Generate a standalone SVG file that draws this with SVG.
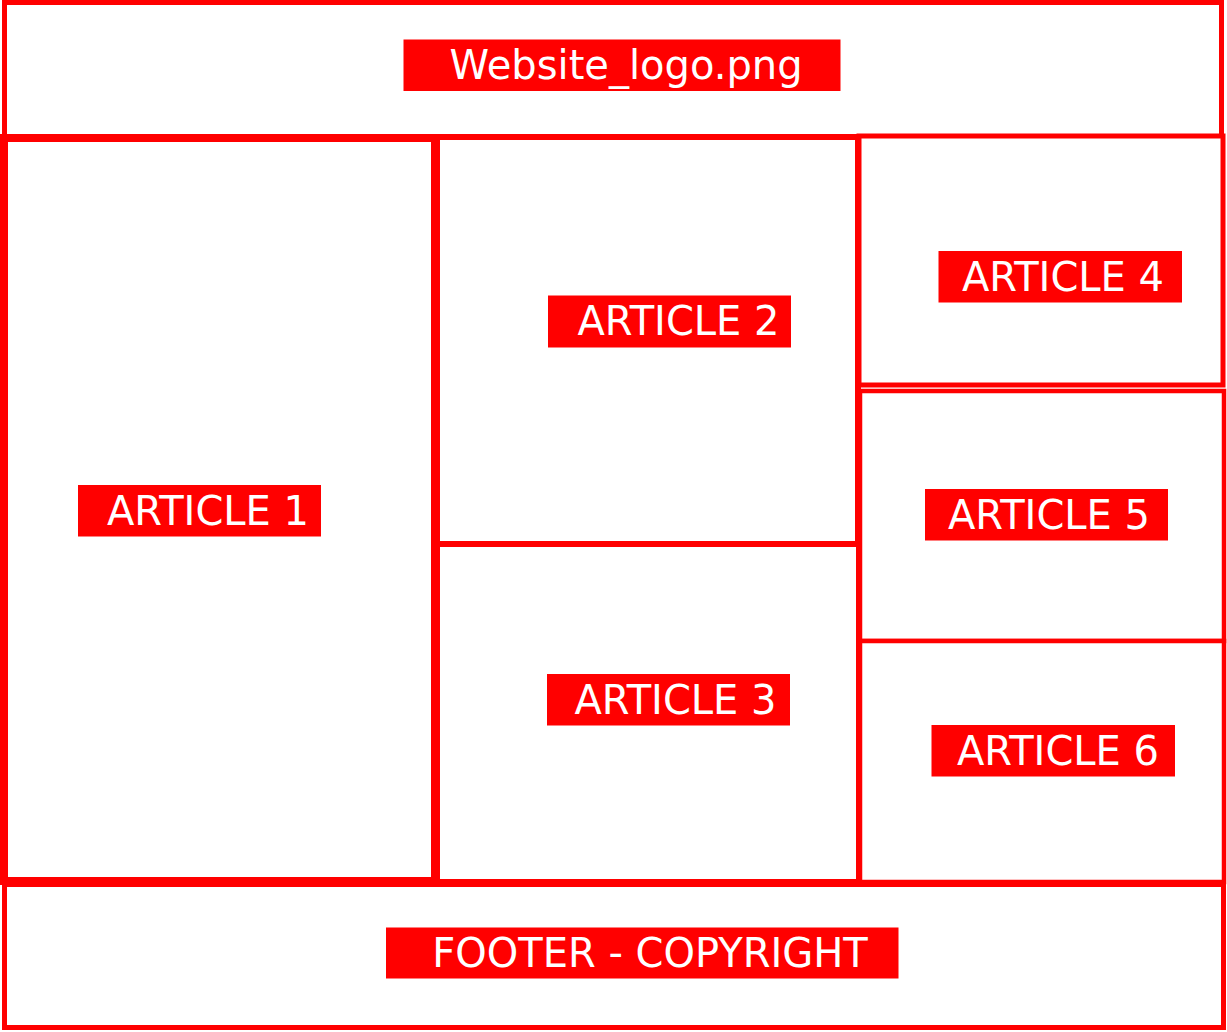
<svg xmlns="http://www.w3.org/2000/svg" width="1227" height="1032" viewBox="0 0 1227 1032">
  <style>
    .frame { fill: #ffffff; stroke: #ff0000; }
    .tag { fill: #ff0000; }
    .label { fill: #ffffff; font-family: "DejaVu Sans", "Liberation Sans", sans-serif; font-size: 40px; text-anchor: middle; }
  </style>
  <rect width="1227" height="1032" fill="#ffffff"/>

  <!-- page header -->
  <g id="header">
    <rect class="frame" x="4.5" y="2.5" width="1217" height="135" stroke-width="5"/>
    <rect class="tag" x="403.5" y="39.5" width="437" height="51.5"/>
    <text class="label" x="626" y="79">Website_logo.png</text>
  </g>

  <!-- article grid -->
  <g id="article-2">
    <rect class="frame" x="437" y="137" width="421" height="407" stroke-width="6"/>
    <rect class="tag" x="548" y="295.5" width="243" height="52"/>
    <text class="label" x="678.5" y="335">ARTICLE 2</text>
  </g>
  <g id="article-3">
    <rect class="frame" x="437" y="544" width="422" height="338" stroke-width="6"/>
    <rect class="tag" x="547" y="674" width="243" height="51.5"/>
    <text class="label" x="675.5" y="713.5">ARTICLE 3</text>
  </g>
  <g id="article-4">
    <rect class="frame" x="859" y="136" width="364" height="249" stroke-width="5"/>
    <rect class="tag" x="938.5" y="251" width="243.5" height="51.5"/>
    <text class="label" x="1063" y="290.5">ARTICLE 4</text>
  </g>
  <g id="article-5">
    <rect class="frame" x="860" y="391" width="364" height="250" stroke-width="4.5"/>
    <rect class="tag" x="925" y="489" width="243" height="51.5"/>
    <text class="label" x="1049" y="528.5">ARTICLE 5</text>
  </g>
  <g id="article-6">
    <rect class="frame" x="860" y="641" width="364" height="241" stroke-width="4.5"/>
    <rect class="tag" x="931.5" y="725" width="243.5" height="51.5"/>
    <text class="label" x="1058" y="764.5">ARTICLE 6</text>
  </g>
  <g id="article-1">
    <rect class="frame" x="4" y="138" width="431" height="743" stroke-width="8"/>
    <rect class="tag" x="78" y="485" width="243" height="51.5"/>
    <text class="label" x="208" y="524.5">ARTICLE 1</text>
  </g>

  <!-- page footer -->
  <g id="footer">
    <rect class="frame" x="4.5" y="884.5" width="1219" height="143" stroke-width="5"/>
    <rect class="tag" x="386" y="927.5" width="512.5" height="51"/>
    <text class="label" x="650" y="966.5">FOOTER - COPYRIGHT</text>
  </g>

  <!-- no connectors in this layout -->
  <g id="connectors"/>
</svg>
